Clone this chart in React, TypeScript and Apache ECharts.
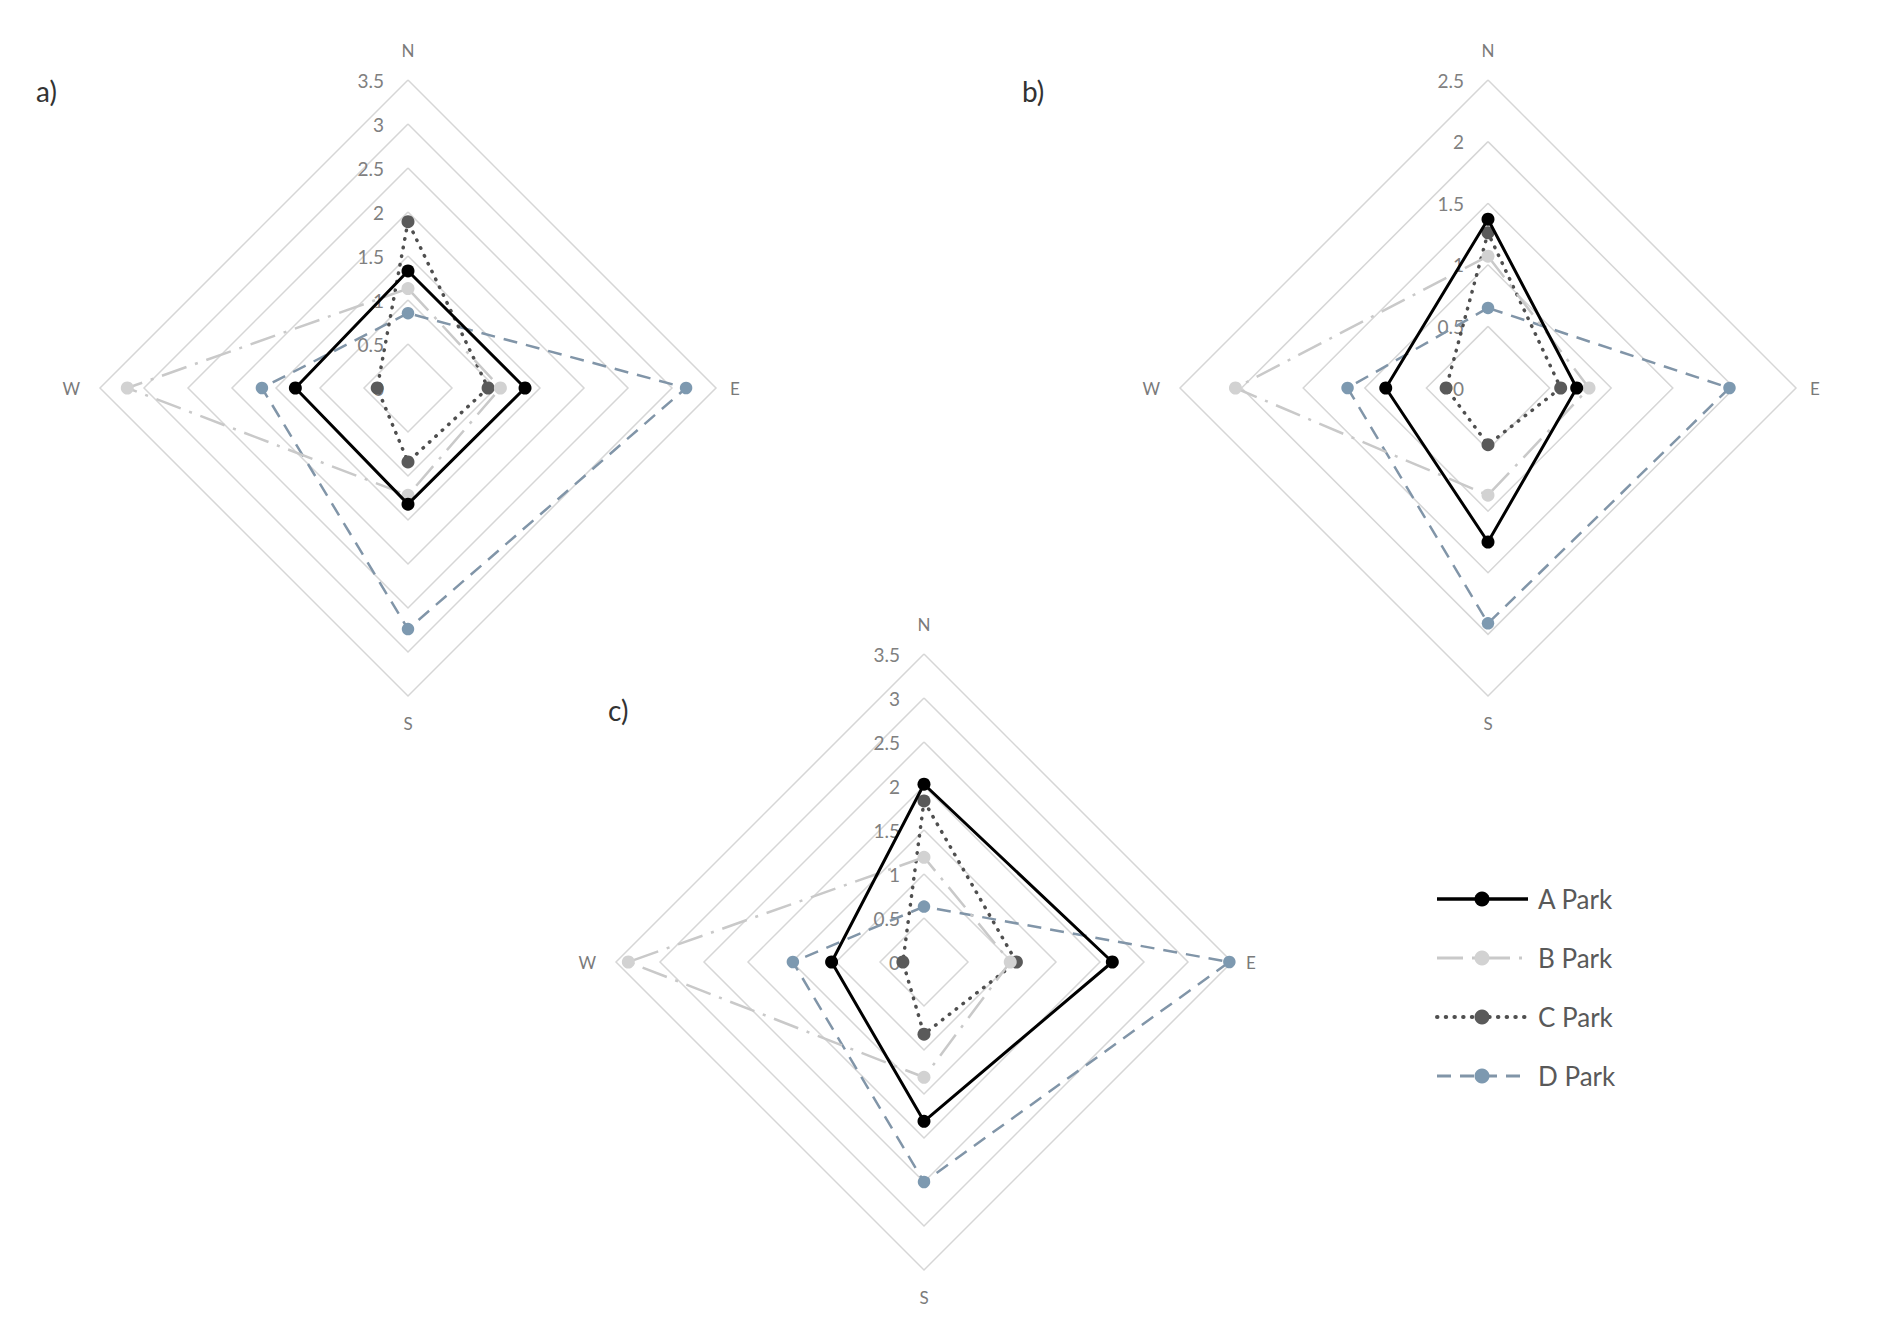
import React, { useEffect, useRef } from "react";
import * as echarts from "echarts";

// Directions as read clockwise in the reference: N, E, S, W
const directions = ["N", "E", "S", "W"];
const parks = ["A Park", "B Park", "C Park", "D Park"];
const panelLabels = ["a)", "b)", "c)"];
const panelMax = [3.5, 2.5, 3.5];
const panelSplits = [7, 5, 7];

// Values per park, in order N, E, S, W
const panelA_A = [1.33, 1.33, 1.32, 1.28];
const panelA_B = [1.13, 1.05, 1.22, 3.19];
const panelA_C = [1.89, 0.91, 0.84, 0.35];
const panelA_D = [0.85, 3.16, 2.74, 1.66];

const panelB_A = [1.37, 0.72, 1.25, 0.83];
const panelB_B = [1.07, 0.82, 0.87, 2.05];
const panelB_C = [1.26, 0.59, 0.46, 0.34];
const panelB_D = [0.65, 1.96, 1.91, 1.14];

const panelC_A = [2.02, 2.14, 1.81, 1.05];
const panelC_B = [1.19, 0.98, 1.31, 3.36];
const panelC_C = [1.83, 1.05, 0.82, 0.24];
const panelC_D = [0.63, 3.47, 2.5, 1.49];

const panelData = [
  [panelA_A, panelA_B, panelA_C, panelA_D],
  [panelB_A, panelB_B, panelB_C, panelB_D],
  [panelC_A, panelC_B, panelC_C, panelC_D],
];

// layout
const centers = [
  [408, 388],
  [1488, 388],
  [924, 962],
];
const RADIUS = 308;
const labelPos = [
  [36, 91],
  [1022, 91],
  [608, 710],
];

const FONT = "Lato, 'Noto Sans', sans-serif";

const parkStyles = [
  { line: "#000000", marker: "#000000", width: 3, dash: "solid" as any, cap: "butt", size: 13 },
  { line: "#c9c9c9", marker: "#d2d2d2", width: 2.5, dash: [26, 9, 3, 9], cap: "butt", size: 13 },
  { line: "#4f4f4f", marker: "#5a5a5a", width: 3.5, dash: [0.5, 8.2], cap: "round", size: 13 },
  { line: "#8195a8", marker: "#7d99b0", width: 2.5, dash: [14, 9], cap: "butt", size: 12.5 },
];

const legendX1 = 1437;
const legendX2 = 1528;
const legendMarkerX = 1482;
const legendTextX = 1538;
const legendY = [899, 958, 1017, 1076];

// ECharts lays indicators out counter-clockwise: N, W, S, E
const toRadarOrder = (v: number[]) => [v[0], v[3], v[2], v[1]];
const radarDirs = [directions[0], directions[3], directions[2], directions[1]];
const nameGaps = [21, 20, 19, 14];

export default function App() {
  const ref = useRef<HTMLDivElement>(null);

  useEffect(() => {
    if (!ref.current) return;
    const chart = echarts.init(ref.current, null, { renderer: "svg" });

    const radar = centers.map((c, i) => ({
      center: [c[0], c[1]],
      radius: RADIUS,
      shape: "polygon",
      startAngle: 90,
      splitNumber: panelSplits[i],
      indicator: radarDirs.map((d, k) => {
        const ind: any = { name: d, min: 0, max: panelMax[i], nameGap: nameGaps[k] };
        if (k === 0) {
          ind.axisLabel = {
            show: true,
            color: "#808080",
            fontSize: 19,
            fontFamily: FONT,
            margin: 24,
            formatter: (v: number) => String(v),
          };
        }
        return ind;
      }),
      axisName: { color: "#7a7a7a", fontSize: 17, fontFamily: FONT },
      axisNameGap: 17,
      axisLine: { show: false },
      axisTick: { show: false },
      axisLabel: { show: false },
      splitLine: { lineStyle: { color: "#d6d6d6", width: 1.5 } },
      splitArea: { show: false },
    }));

    const series: any[] = [];
    panelData.forEach((pd, i) => {
      [3, 2, 1, 0].forEach((p) => {
        const st = parkStyles[p];
        series.push({
          type: "radar",
          radarIndex: i,
          name: parks[p],
          symbol: "circle",
          symbolSize: st.size,
          lineStyle: { color: st.line, width: st.width, type: st.dash, cap: st.cap },
          itemStyle: { color: st.marker },
          data: [{ name: parks[p], value: toRadarOrder(pd[p]) }],
          z: 2 + (3 - p),
        });
      });
    });

    const graphic: any[] = [];
    panelLabels.forEach((t, i) => {
      graphic.push({
        type: "text",
        x: labelPos[i][0],
        y: labelPos[i][1],
        style: {
          text: t,
          fill: "#333333",
          fontSize: 28,
          fontFamily: FONT,
          verticalAlign: "middle",
        },
      });
    });
    parks.forEach((p, k) => {
      const st = parkStyles[k];
      const y = legendY[k];
      graphic.push({
        type: "line",
        shape: { x1: legendX1, y1: y, x2: legendX2, y2: y },
        style: {
          stroke: st.line,
          lineWidth: st.width + 0.5,
          lineDash: st.dash === "solid" ? null : st.dash,
          lineCap: st.cap,
        },
      });
      graphic.push({
        type: "circle",
        shape: { cx: legendMarkerX, cy: y, r: 7.5 },
        style: { fill: st.marker },
      });
      graphic.push({
        type: "text",
        x: legendTextX,
        y: y,
        style: {
          text: p,
          fill: "#595959",
          fontSize: 26,
          fontFamily: FONT,
          verticalAlign: "middle",
        },
      });
    });

    chart.setOption({
      animation: false,
      backgroundColor: "#ffffff",
      radar,
      series,
      graphic,
    });

    return () => chart.dispose();
  }, []);

  return (
    <div
      ref={ref}
      style={{ position: "fixed", left: 0, top: 0, width: 1902, height: 1333 }}
    />
  );
}
